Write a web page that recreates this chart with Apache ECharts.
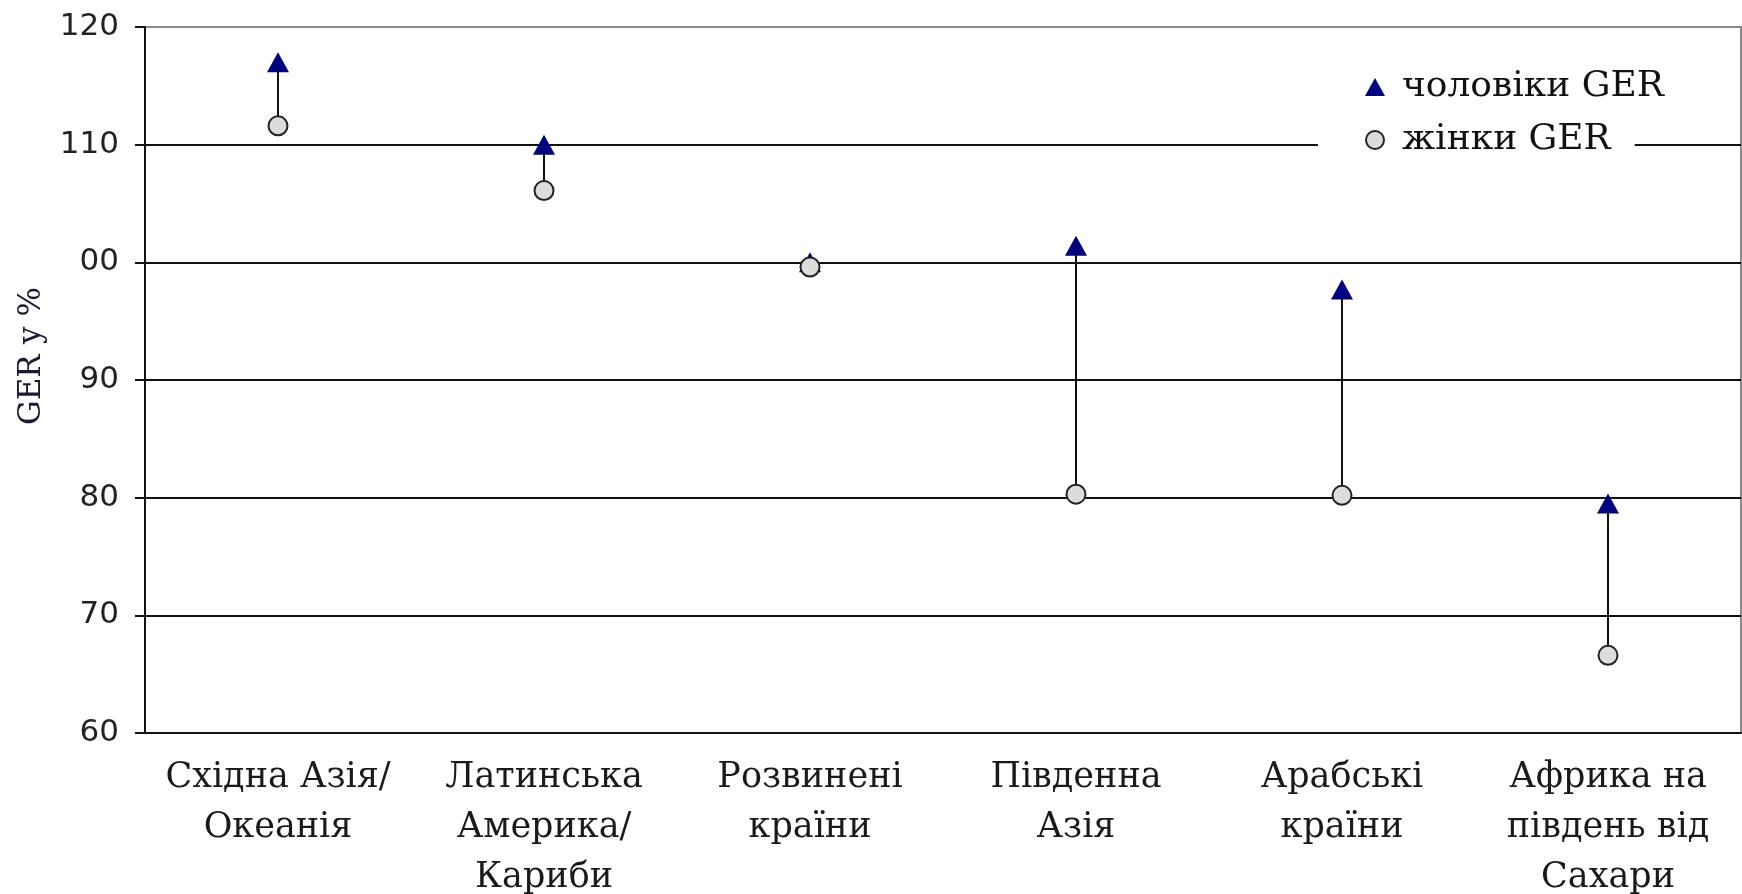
<!DOCTYPE html>
<html>
<head>
<meta charset="utf-8">
<script src="https://cdn.jsdelivr.net/npm/echarts@6/dist/echarts.min.js"></script>
<style>
  html, body { margin: 0; padding: 0; background: #fff; }
  #chart { width: 1742px; height: 894px; }
</style>
</head>
<body>
<div id="chart"></div>
<script>
const categories = [
  'Східна Азія/\nОкеанія',
  'Латинська\nАмерика/\nКариби',
  'Розвинені\nкраїни',
  'Південна\nАзія',
  'Арабські\nкраїни',
  'Африка на\nпівдень від\nСахари'
];
const maleGER = [117.0, 110.0, 100.0, 101.4, 97.7, 79.5];
const femaleGER = [111.6, 106.1, 99.6, 80.3, 80.2, 66.6];
const yTicks = { min: 60, max: 120, interval: 10 };
const seriesNames = ['чоловіки GER', 'жінки GER'];
const yAxisTitle = 'GER у %';

const rangeData = categories.map((c, i) => [i, femaleGER[i], maleGER[i]]);

const serif = '"DejaVu Serif", serif';
const sans = '"DejaVu Sans", "Liberation Sans", sans-serif';

const chart = echarts.init(document.getElementById('chart'));
chart.setOption({
  animation: false,
  backgroundColor: '#fff',
  grid: {
    left: 145, right: 1, top: 27, bottom: 161,
    containLabel: false,
    outerBoundsMode: 'none',
    show: true, borderColor: '#8a8a8a', borderWidth: 2
  },
  legend: [
    {
      data: [seriesNames[0]],
      selectedMode: false,
      left: 1365, top: 67,
      padding: 0,
      itemWidth: 20, itemHeight: 18,
      icon: 'triangle',
      textStyle: { fontFamily: serif, fontSize: 36, color: '#111', lineHeight: 40, padding: [0, 0, 0, 12] }
    },
    {
      data: [seriesNames[1]],
      selectedMode: false,
      left: 1318, top: 112,
      padding: [8, 24, 8, 47],
      backgroundColor: '#fff',
      itemWidth: 20, itemHeight: 18,
      icon: 'circle',
      textStyle: { fontFamily: serif, fontSize: 36, color: '#111', lineHeight: 40, padding: [0, 0, 0, 12] }
    }
  ],
  xAxis: [
    {
      type: 'category',
      data: categories,
      boundaryGap: true,
      axisLine: { lineStyle: { color: '#111', width: 2 } },
      axisTick: { inside: true, length: 8, lineStyle: { color: '#111', width: 2 } },
      axisLabel: {
        interval: 0, margin: 20,
        fontFamily: serif, fontSize: 35, lineHeight: 50, color: '#1a1a1a'
      },
      splitLine: { show: false }
    },
    {
      type: 'category',
      data: categories,
      position: 'bottom',
      boundaryGap: true,
      axisLine: { show: false },
      axisTick: { inside: true, alignWithLabel: true, length: 8, lineStyle: { color: '#111', width: 2 } },
      axisLabel: { show: false },
      splitLine: { show: false }
    }
  ],
  yAxis: {
    type: 'value',
    min: yTicks.min, max: yTicks.max, interval: yTicks.interval,
    name: yAxisTitle,
    nameLocation: 'middle',
    nameRotate: 90,
    nameGap: 98,
    nameTextStyle: { fontFamily: serif, fontSize: 31, color: '#1a1a33', padding: [0, 0, 0, 48] },
    axisLine: { show: true, lineStyle: { color: '#111', width: 2 } },
    axisTick: { show: true, length: 10, lineStyle: { color: '#111', width: 2 } },
    axisLabel: {
      margin: 26,
      fontFamily: sans, fontSize: 31, color: '#222',
      formatter: v => (v === 100 ? '00' : String(v))
    },
    splitLine: {
      show: true,
      lineStyle: { color: ['#111', '#111', '#111', '#111', '#111', '#111', '#8a8a8a'], width: 2 }
    }
  },
  series: [
    {
      type: 'custom',
      name: 'range',
      z: 1,
      encode: { x: 0, y: [1, 2] },
      data: rangeData,
      renderItem: function (params, api) {
        const p1 = api.coord([api.value(0), api.value(1)]);
        const p2 = api.coord([api.value(0), api.value(2)]);
        return {
          type: 'line',
          shape: { x1: p1[0], y1: p1[1], x2: p2[0], y2: p2[1] },
          style: { stroke: '#111', lineWidth: 2 }
        };
      },
      silent: true
    },
    {
      type: 'scatter',
      name: seriesNames[0],
      z: 3,
      symbol: 'triangle',
      symbolSize: [22, 20],
      itemStyle: { color: '#00007f', opacity: 1 },
      data: maleGER
    },
    {
      type: 'scatter',
      name: seriesNames[1],
      z: 4,
      symbol: 'circle',
      symbolSize: 19,
      itemStyle: { color: '#dcdcdc', borderColor: '#222', borderWidth: 2, opacity: 1 },
      data: femaleGER
    }
  ]
});
</script>
</body>
</html>
